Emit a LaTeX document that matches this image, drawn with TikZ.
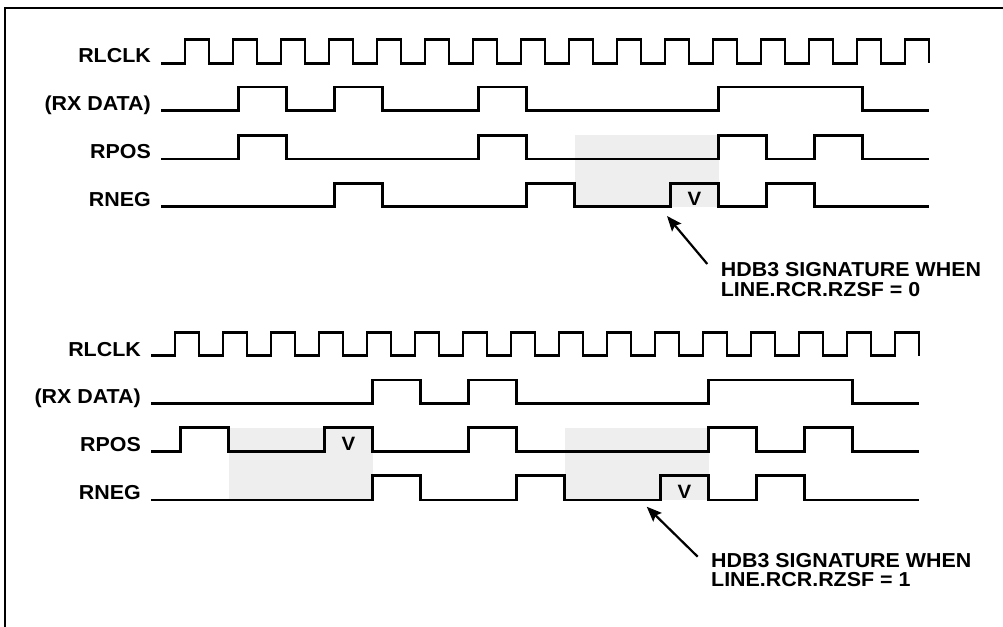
\documentclass[tikz,border=0pt]{standalone}
\usepackage{fontspec}
\setmainfont[FakeStretch=1.06]{Liberation Sans}
\usetikzlibrary{arrows.meta}
\definecolor{shade}{HTML}{EEEEEE}
\tikzset{
  wave/.style={line width=2.6pt, line join=miter},
  sig/.style={font=\fontsize{20.2}{20}\selectfont\bfseries, inner sep=0pt, anchor=base east},
  vmark/.style={font=\fontsize{19.3}{20}\selectfont\bfseries, inner sep=0pt, anchor=base},
  note/.style={font=\fontsize{20.2}{20}\selectfont\bfseries, inner sep=0pt, anchor=base west},
  pointer/.style={line width=2.2pt, -{Stealth[length=15pt,width=12pt,inset=2.5pt]}},
  hdbbox/.style={fill=shade, draw=none},
  frame/.style={line width=2pt}
}
\begin{document}
\begin{tikzpicture}[x=1pt,y=-1pt]
\useasboundingbox (0,0) rectangle (1003,626);
\draw[frame] (5,8) rectangle (1030,650);

% ---------- top section ----------
\begin{scope}
  \fill[hdbbox] (574.5,135.3) rectangle (718.5,206.7);
  \node[sig] (tclk) at (151,63) {RLCLK};
  \node[sig] (tdat) at (151,110) {(RX DATA)};
  \node[sig] (tpos) at (151,158.5) {RPOS};
  \node[sig] (tneg) at (151,206.2) {RNEG};
  \draw[wave] (161,63.3) \foreach \k in {0,...,15}{
      -- ({185+48*\k},63.3) -- ({185+48*\k},39.3) -- ({209+48*\k},39.3) -- ({209+48*\k},63.3)};
  \draw[wave] (161,110.5) -- (238.5,110.5) -- (238.5,86.8) -- (286.5,86.8) -- (286.5,110.5)
     -- (334.5,110.5) -- (334.5,86.8) -- (382.5,86.8) -- (382.5,110.5)
     -- (478.5,110.5) -- (478.5,86.8) -- (526.5,86.8) -- (526.5,110.5)
     -- (718.5,110.5) -- (718.5,86.8) -- (862.5,86.8) -- (862.5,110.5) -- (929,110.5);
  \draw[wave] (161,159) -- (238.5,159) -- (238.5,135.3) -- (286.5,135.3) -- (286.5,159)
     -- (478.5,159) -- (478.5,135.3) -- (526.5,135.3) -- (526.5,159)
     -- (718.5,159) -- (718.5,135.3) -- (766.5,135.3) -- (766.5,159)
     -- (814.5,159) -- (814.5,135.3) -- (862.5,135.3) -- (862.5,159) -- (929,159);
  \draw[wave] (161,206.7) -- (334.5,206.7) -- (334.5,183.3) -- (382.5,183.3) -- (382.5,206.7)
     -- (526.5,206.7) -- (526.5,183.3) -- (574.5,183.3) -- (574.5,206.7)
     -- (670.5,206.7) -- (670.5,183.3) -- (718.5,183.3) -- (718.5,206.7)
     -- (766.5,206.7) -- (766.5,183.3) -- (814.5,183.3) -- (814.5,206.7) -- (929,206.7);
  \node[vmark] (tv) at (694.5,205) {V};
\end{scope}

% ---------- bottom section ----------
\begin{scope}[shift={(-10,293)}]
  \fill[hdbbox] (238.5,134.7) rectangle (382.5,207);
  \fill[hdbbox] (574.5,134.7) rectangle (718.5,207);
  \node[sig] (bclk) at (151,63) {RLCLK};
  \node[sig] (bdat) at (151,110) {(RX DATA)};
  \node[sig] (bpos) at (151,158.5) {RPOS};
  \node[sig] (bneg) at (151,206.5) {RNEG};
  \draw[wave] (161,62.7) \foreach \k in {0,...,15}{
      -- ({185+48*\k},62.7) -- ({185+48*\k},39.3) -- ({209+48*\k},39.3) -- ({209+48*\k},62.7)};
  \draw[wave] (161,110.3) -- (382.5,110.3) -- (382.5,87) -- (430.5,87) -- (430.5,110.3)
     -- (478.5,110.3) -- (478.5,87) -- (526.5,87) -- (526.5,110.3)
     -- (718.5,110.3) -- (718.5,87) -- (862.5,87) -- (862.5,110.3) -- (929,110.3);
  \draw[wave] (161,158.7) -- (190.5,158.7) -- (190.5,134.7) -- (238.5,134.7) -- (238.5,158.7)
     -- (334.5,158.7) -- (334.5,134.7) -- (382.5,134.7) -- (382.5,158.7)
     -- (478.5,158.7) -- (478.5,134.7) -- (526.5,134.7) -- (526.5,158.7)
     -- (718.5,158.7) -- (718.5,134.7) -- (766.5,134.7) -- (766.5,158.7)
     -- (814.5,158.7) -- (814.5,134.7) -- (862.5,134.7) -- (862.5,158.7) -- (929,158.7);
  \draw[wave] (161,207) -- (382.5,207) -- (382.5,182.7) -- (430.5,182.7) -- (430.5,207)
     -- (526.5,207) -- (526.5,182.7) -- (574.5,182.7) -- (574.5,207)
     -- (670.5,207) -- (670.5,182.7) -- (718.5,182.7) -- (718.5,207)
     -- (766.5,207) -- (766.5,182.7) -- (814.5,182.7) -- (814.5,207) -- (929,207);
  \node[vmark] (bv1) at (358.5,157) {V};
  \node[vmark] (bv2) at (694.5,205.3) {V};
\end{scope}

% ---------- annotations ----------
\node[note] (tnote1) at (720.7,276.7) {HDB3 SIGNATURE WHEN};
\node[note] (tnote2) at (720.7,296.7) {LINE.RCR.RZSF = 0};
\coordinate (ttail) at (707.3,264);
\coordinate (ttip) at (667,216);
\draw[pointer] (ttail) -- (ttip);

\node[note] (bnote1) at (711,567.3) {HDB3 SIGNATURE WHEN};
\node[note] (bnote2) at (711,586.7) {LINE.RCR.RZSF = 1};
\coordinate (btail) at (697.7,556.7);
\coordinate (btip) at (646.7,506.7);
\draw[pointer] (btail) -- (btip);
\end{tikzpicture}
\end{document}
